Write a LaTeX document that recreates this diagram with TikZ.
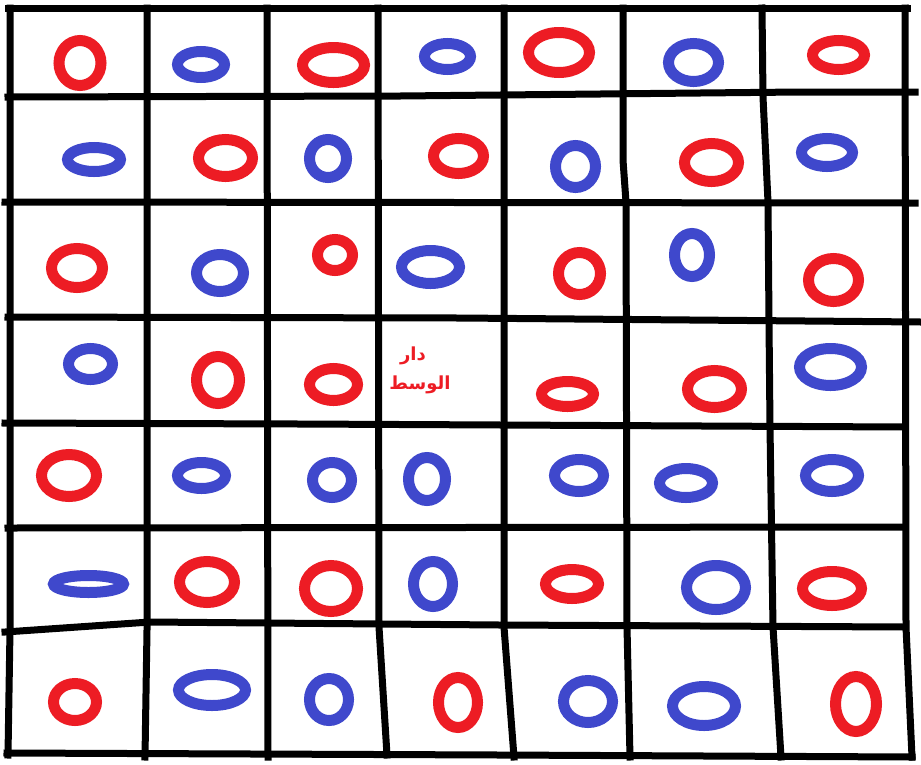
\documentclass[tikz,border=0pt]{standalone}
\usepackage{fontspec}
\newfontfamily\arabicfont[Script=Arabic]{DejaVu Sans}
\TeXXeTstate=1
\definecolor{pred}{HTML}{ED1C24}
\definecolor{pblue}{HTML}{3F48CC}
\tikzset{
  gridline/.style={line width=7pt, black, line cap=rect, line join=miter},
  ovr/.style={line width=11pt, pred},
  ovb/.style={line width=11pt, pblue},
  lbl/.style={inner sep=0pt, text=pred, font=\arabicfont\bfseries\fontsize{18}{20}\selectfont}
}
\newcommand\myov[5]{\draw[#1] (#2,#3) ellipse [x radius=#4pt, y radius=#5pt];}
\begin{document}
\begin{tikzpicture}[x=1pt,y=-1pt]
\useasboundingbox[fill=white] (0,0) rectangle (921,764);
% horizontal lines
\draw[gridline] (8,8) -- (907,8);
\draw[gridline] (8,97) -- (400,96) -- (800,92) -- (915,92);
\draw[gridline] (5,202) -- (915,203);
\draw[gridline] (8,317) -- (460,318) -- (921,322);
\draw[gridline] (5,423) -- (300,424) -- (905,427);
\draw[gridline] (8,528) -- (905,527);
\draw[gridline] (5,632) -- (150,622) -- (500,625) -- (905,627);
\draw[gridline] (7,753) -- (500,755) -- (912,757);
% vertical lines
\draw[gridline] (10,8) -- (10,630) -- (8,755);
\draw[gridline] (147,8) -- (147,630) -- (145,757);
\draw[gridline] (267,8) -- (268,757);
\draw[gridline] (378,8) -- (379,627) -- (387,755);
\draw[gridline] (504,8) -- (504,627) -- (514,757);
\draw[gridline] (623,8) -- (623,160) -- (626,202) -- (627,627) -- (630,757);
\draw[gridline] (762,8) -- (763,97) -- (768,202) -- (769,322) -- (770,427) -- (773,627) -- (781,757);
\draw[gridline] (905,8) -- (906,627) -- (912,757);
% row 1
\myov{ovr}{80}{63}{21}{22.5}
\myov{ovb}{201}{64.5}{23.5}{13}
\myov{ovr}{333.5}{65}{31}{17.5}
\myov{ovb}{447.5}{56.5}{23}{13}
\myov{ovr}{559}{52.5}{30.5}{20}
\myov{ovb}{693.5}{62.5}{25}{19}
\myov{ovr}{838.5}{55}{26}{14.5}
% row 2
\myov{ovb}{94}{159.5}{26.5}{12}
\myov{ovr}{225.5}{158}{27}{18.5}
\myov{ovb}{328}{158.5}{18.5}{19}
\myov{ovr}{458.5}{156}{25}{17.5}
\myov{ovb}{575.5}{166.5}{20}{21}
\myov{ovr}{711.5}{162.5}{27}{19}
\myov{ovb}{827}{152.5}{25.5}{14}
% row 3
\myov{ovr}{77}{268}{25.5}{19.5}
\myov{ovb}{220}{273}{23.5}{18.5}
\myov{ovr}{335}{255}{17.5}{15.5}
\myov{ovb}{430.5}{267}{29}{16.5}
\myov{ovr}{579.5}{273.5}{21}{21}
\myov{ovb}{692}{255}{17.5}{21.5}
\myov{ovr}{833.5}{280}{25}{21.5}
% row 4
\myov{ovb}{90.5}{364}{22}{15.5}
\myov{ovr}{218}{380}{21.5}{23.5}
\myov{ovr}{333.5}{384.5}{24}{16}
\node[lbl] (t1) at (413,356) {\beginR دار\endR};
\node[lbl] (t2) at (420,385) {\beginR الوسط\endR};
\myov{ovr}{567.5}{394}{26}{12.5}
\myov{ovr}{714.5}{389}{27}{18.5}
\myov{ovb}{830.5}{367}{31}{18.5}
% row 5
\myov{ovr}{69}{475.5}{27.5}{21}
\myov{ovb}{201.5}{475.5}{24}{13}
\myov{ovb}{332}{480}{19.5}{17.5}
\myov{ovb}{427}{479}{18.5}{21.5}
\myov{ovb}{579}{475.5}{24.5}{16}
\myov{ovb}{686}{483}{26.5}{14.5}
\myov{ovb}{832}{475.5}{26.5}{16}
% row 6
\myov{ovb}{88.5}{584}{35}{8.5}
\myov{ovr}{207}{582}{27.5}{20.5}
\myov{ovr}{331}{588.5}{26.5}{23}
\myov{ovb}{433}{584}{19.5}{22.5}
\myov{ovr}{572}{584}{26.5}{14.5}
\myov{ovb}{716}{587.5}{29.5}{22}
\myov{ovr}{832}{588.5}{29.5}{17}
% row 7
\myov{ovr}{75}{702}{21.5}{18.5}
\myov{ovb}{212}{690}{33.5}{15.5}
\myov{ovb}{329}{699.5}{19.5}{21}
\myov{ovr}{458}{702.5}{19.5}{25}
\myov{ovb}{588}{701.5}{24.5}{21}
\myov{ovb}{704}{706}{31.5}{19.5}
\myov{ovr}{856}{704}{20.5}{27.5}
\end{tikzpicture}
\end{document}
